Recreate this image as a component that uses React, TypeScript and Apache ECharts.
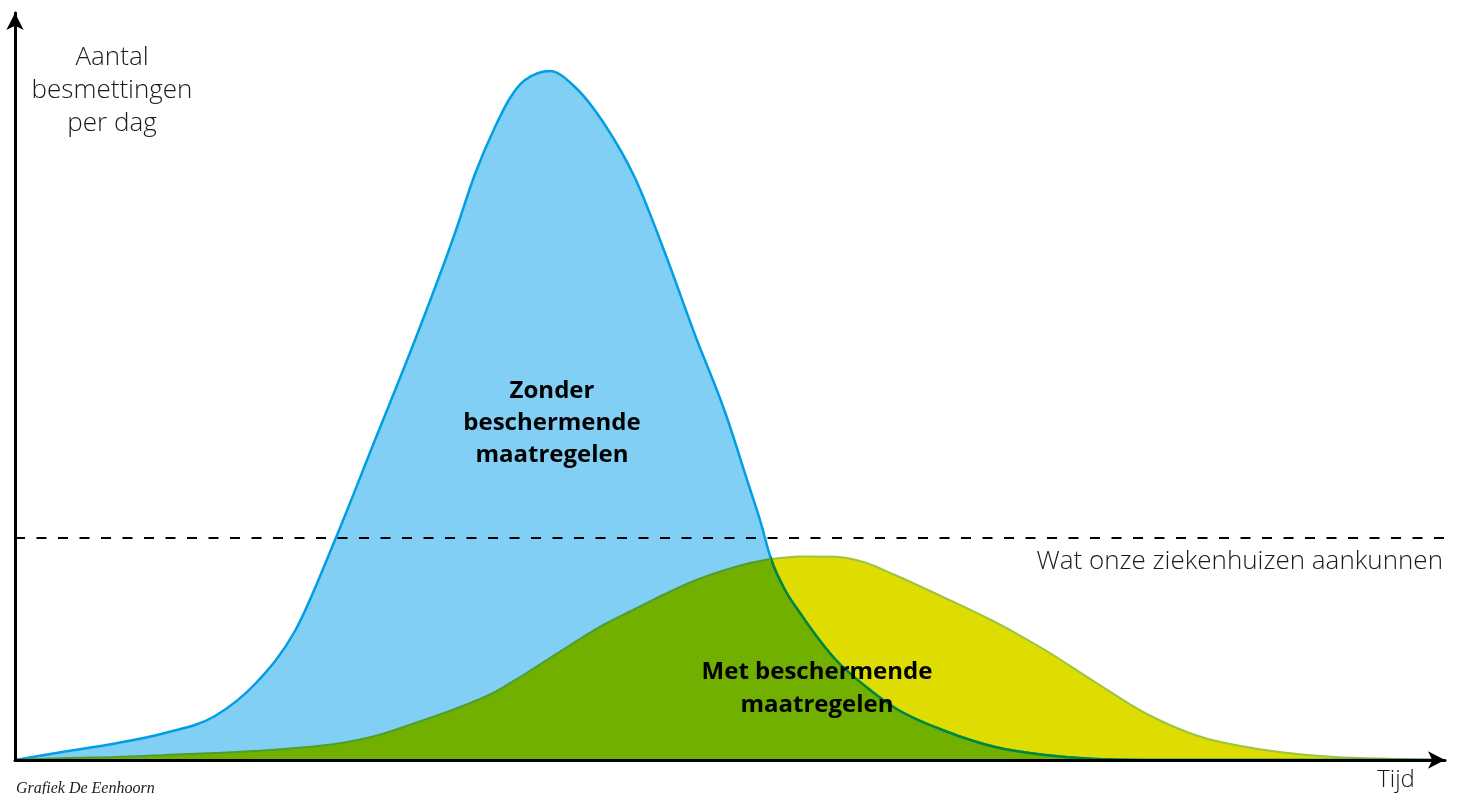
import React, { useEffect, useRef } from "react";
import * as echarts from "echarts";

// Time axis (arbitrary units) shared by both curves
const xs = [0, 5, 10, 15, 20, 24, 28, 32, 36, 40, 44, 46, 48, 49.5, 51, 53.5, 56, 59, 62, 65, 68, 71, 73.5, 74.5, 75.6, 77, 78.5, 82, 85, 88, 93, 98, 103, 108, 113, 118, 125, 132, 138, 142];
// Infections per day without protective measures
const zonderValues = [0, 8.5, 16.5, 27, 44, 76, 129, 220, 320, 420, 527, 586, 633, 662, 680, 689, 673, 635, 582, 507, 425, 348, 271, 240, 201, 170, 147, 101, 74, 52, 29, 13, 5, 1, 0, 0, 0, 0, 0, 0];
// Infections per day with protective measures
const metValues = [0, 2, 3, 5, 7, 9, 12, 16, 24, 37, 51, 59, 68, 77, 86, 102, 118, 136, 151, 166, 179.5, 190, 197, 199, 201, 202.5, 203.6, 203.3, 197.5, 185, 162, 138, 110, 78, 47, 25, 10, 3, 1, 0];
// Hospital capacity level
const capacity = 222;
// Intersection of the two curves
const crossX = 75.6;

const xMax = 143;
const yMax = 747;

// Monotone cubic curve (in x) through pixel points, optionally closed to a baseline.
const CurveArea = echarts.graphic.extendShape({
  type: "curveArea",
  shape: { points: [] as number[][], baseY: 0, closed: true },
  buildPath(ctx: any, shape: any) {
    const pts: number[][] = shape.points;
    const n = pts ? pts.length : 0;
    if (n < 2) return;
    const s: number[] = [];
    for (let i = 0; i < n - 1; i++) {
      const h = pts[i + 1][0] - pts[i][0];
      s[i] = h ? (pts[i + 1][1] - pts[i][1]) / h : 0;
    }
    const t: number[] = new Array(n).fill(0);
    for (let i = 1; i < n - 1; i++) {
      const h0 = pts[i][0] - pts[i - 1][0];
      const h1 = pts[i + 1][0] - pts[i][0];
      const p = (s[i - 1] * h1 + s[i] * h0) / (h0 + h1);
      t[i] =
        (Math.sign(s[i - 1]) + Math.sign(s[i])) *
          Math.min(Math.abs(s[i - 1]), Math.abs(s[i]), 0.5 * Math.abs(p)) || 0;
    }
    t[0] = n > 2 ? (3 * s[0] - t[1]) / 2 : s[0];
    t[n - 1] = n > 2 ? (3 * s[n - 2] - t[n - 2]) / 2 : s[n - 2];
    ctx.moveTo(pts[0][0], pts[0][1]);
    for (let i = 0; i < n - 1; i++) {
      const [x0, y0] = pts[i];
      const [x1, y1] = pts[i + 1];
      const dx = (x1 - x0) / 3;
      ctx.bezierCurveTo(x0 + dx, y0 + dx * t[i], x1 - dx, y1 - dx * t[i + 1], x1, y1);
    }
    if (shape.closed) {
      ctx.lineTo(pts[n - 1][0], shape.baseY);
      ctx.lineTo(pts[0][0], shape.baseY);
      ctx.closePath();
    }
  },
});
echarts.graphic.registerShape("curveArea", CurveArea);

const CLEAR = "rgba(0,0,0,0)";

function hardSplit(x0: number, x1: number, at: number, left: string, right: string) {
  const o = Math.max(0, Math.min(1, (at - x0) / (x1 - x0)));
  return {
    type: "linear",
    x: x0,
    y: 0,
    x2: x1,
    y2: 0,
    global: true,
    colorStops: [
      { offset: 0, color: left },
      { offset: o, color: left },
      { offset: o, color: right },
      { offset: 1, color: right },
    ],
  };
}

export default function App() {
  const ref = useRef<HTMLDivElement>(null);
  useEffect(() => {
    if (!ref.current) return;
    const chart = echarts.init(ref.current, null, { renderer: "svg" });
    const zonder = xs.map((x, i) => [x, zonderValues[i]]);
    const met = xs.map((x, i) => [x, metValues[i]]);
    const capacityLine = [
      [0, capacity],
      [xMax, capacity],
    ];
    const lightFont = "'Open Sans'";
    const boldFont = "'Open Sans'";
    const axisCommon = {
      axisTick: { show: false },
      axisLabel: { show: false },
      splitLine: { show: false },
      z: 10,
    };
    const axisLine = {
      show: true,
      onZero: false,
      symbol: ["none", "arrow"],
      symbolSize: [13, 17],
      lineStyle: { color: "#000", width: 3 },
    };

    const toPixels = (api: any, vals: number[]) => xs.map((x, i) => api.coord([x, vals[i]]));

    chart.setOption({
      animation: false,
      grid: { left: 15, right: 13, top: 13, bottom: 34 },
      xAxis: { type: "value", min: 0, max: xMax, axisLine, ...axisCommon },
      yAxis: { type: "value", min: 0, max: yMax, axisLine, ...axisCommon },
      series: [
        {
          type: "custom",
          name: "Met beschermende maatregelen",
          data: met,
          silent: true,
          renderItem: (params: any, api: any) => {
            if (params.dataIndex !== 0) return null;
            const pts = toPixels(api, metValues);
            const baseY = api.coord([0, 0])[1];
            return {
              type: "group",
              children: [
                { type: "curveArea", shape: { points: pts, baseY, closed: true }, style: { fill: "#DEDC00" } },
                {
                  type: "curveArea",
                  shape: { points: pts, baseY, closed: false },
                  style: { fill: "none", stroke: "#9CC43C", lineWidth: 2 },
                },
              ],
            };
          },
        },
        {
          type: "custom",
          name: "Zonder beschermende maatregelen",
          data: zonder,
          silent: true,
          renderItem: (params: any, api: any) => {
            if (params.dataIndex !== 0) return null;
            const blue = toPixels(api, zonderValues);
            const yellow = toPixels(api, metValues);
            const baseY = api.coord([0, 0])[1];
            const gx0 = api.coord([0, 0])[0];
            const gx1 = api.coord([xMax, 0])[0];
            const cx = api.coord([crossX, 0])[0];
            return {
              type: "group",
              children: [
                { type: "curveArea", shape: { points: blue, baseY, closed: true }, style: { fill: "#82CFF5" } },
                {
                  type: "curveArea",
                  shape: { points: blue, baseY, closed: false },
                  style: { fill: "none", stroke: "#009FE3", lineWidth: 2.5 },
                },
                {
                  type: "curveArea",
                  shape: { points: yellow, baseY, closed: true },
                  style: { fill: hardSplit(gx0, gx1, cx + 0.6, "#72B000", CLEAR) },
                },
                {
                  type: "curveArea",
                  shape: { points: blue, baseY, closed: true },
                  style: { fill: hardSplit(gx0, gx1, cx, CLEAR, "#72B000") },
                },
                {
                  type: "curveArea",
                  shape: { points: yellow, baseY, closed: false },
                  style: { fill: "none", stroke: hardSplit(gx0, gx1, cx, "#4E9E2E", CLEAR), lineWidth: 2 },
                },
                {
                  type: "curveArea",
                  shape: { points: blue, baseY, closed: false },
                  style: { fill: "none", stroke: hardSplit(gx0, gx1, cx, CLEAR, "#00873A"), lineWidth: 2.5 },
                },
              ],
            };
          },
        },
        {
          type: "line",
          name: "Wat onze ziekenhuizen aankunnen",
          data: capacityLine,
          symbol: "none",
          silent: true,
          z: 5,
          lineStyle: { color: "#000", width: 2, type: [10, 11.5] },
        },
      ],
      graphic: [
        {
          type: "text",
          x: 112,
          y: 88,
          style: {
            text: "Aantal\nbesmettingen\nper dag",
            fontSize: 26,
            fontFamily: lightFont,
            fontWeight: 300,
            lineHeight: 33,
            fill: "#1a1a1a",
            align: "center",
            verticalAlign: "middle",
          },
        },
        {
          type: "text",
          x: 1443,
          y: 559,
          style: {
            text: "Wat onze ziekenhuizen aankunnen",
            fontSize: 26,
            fontFamily: lightFont,
            fontWeight: 300,
            fill: "#1a1a1a",
            align: "right",
            verticalAlign: "middle",
          },
        },
        {
          type: "text",
          x: 552,
          y: 420,
          z: 20,
          style: {
            text: "Zonder\nbeschermende\nmaatregelen",
            fontSize: 24,
            fontFamily: boldFont,
            fontWeight: "bold",
            lineHeight: 32,
            fill: "#000",
            align: "center",
            verticalAlign: "middle",
          },
        },
        {
          type: "text",
          x: 817,
          y: 686,
          z: 20,
          style: {
            text: "Met beschermende\nmaatregelen",
            fontSize: 24,
            fontFamily: boldFont,
            fontWeight: "bold",
            lineHeight: 33,
            fill: "#000",
            align: "center",
            verticalAlign: "middle",
          },
        },
        {
          type: "text",
          x: 1396,
          y: 777,
          style: {
            text: "Tijd",
            fontSize: 24,
            fontFamily: lightFont,
            fontWeight: 300,
            fill: "#1a1a1a",
            align: "center",
            verticalAlign: "middle",
          },
        },
        {
          type: "text",
          x: 16,
          y: 787,
          style: {
            text: "Grafiek De Eenhoorn",
            fontSize: 16,
            fontFamily: "'Liberation Serif', serif",
            fontStyle: "italic",
            fill: "#222",
            align: "left",
            verticalAlign: "middle",
          },
        },
      ],
    });
    return () => chart.dispose();
  }, []);
  return (
    <div
      ref={ref}
      style={{ position: "fixed", left: 0, top: 0, width: 1458, height: 794 }}
    />
  );
}
